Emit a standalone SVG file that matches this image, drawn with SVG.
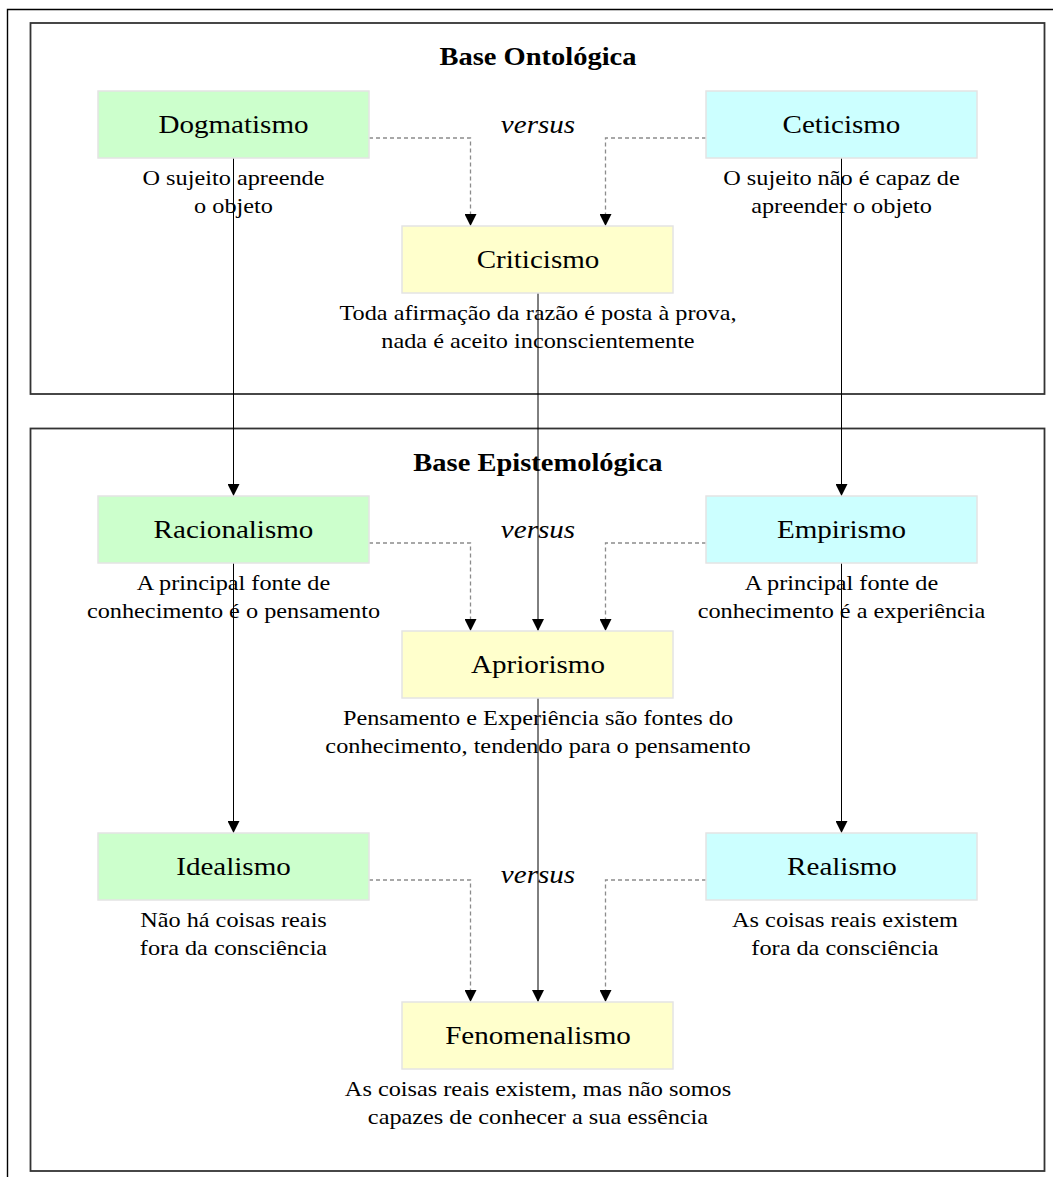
<svg xmlns="http://www.w3.org/2000/svg" width="1053" height="1177" viewBox="0 0 1053 1177">
  <defs>
    <marker id="arrow" viewBox="0 0 12 12" refX="12" refY="6" markerWidth="12" markerHeight="12" markerUnits="userSpaceOnUse" orient="auto">
      <path d="M0,0 L12,6 L0,12 Z" fill="#000"/>
    </marker>
    <style>
      text { font-family: "Liberation Serif", "Times New Roman", serif; fill: #000; text-anchor: middle;
             transform-box: fill-box; transform-origin: center; transform: scaleX(1.14); }
      .title { font-size: 25px; font-weight: bold; }
      .label { font-size: 25.5px; }
      .caption { font-size: 21.3px; }
      .versus { font-size: 25.5px; font-style: italic; }
      .section { fill: none; stroke: #333; stroke-width: 1.8; }
      .green { fill: #ccffcc; stroke: #e4e4e4; stroke-width: 1.5; }
      .cyan { fill: #ccffff; stroke: #e4e4e4; stroke-width: 1.5; }
      .yellow { fill: #ffffcc; stroke: #e4e4e4; stroke-width: 1.5; }
      .solid { fill: none; stroke: #000; stroke-width: 1; }
      .dashed { fill: none; stroke: #8c8c8c; stroke-width: 1.3; stroke-dasharray: 4 3; }
    </style>
  </defs>

  <rect width="1053" height="1177" fill="#fff"/>

  <!-- page frame -->
  <path d="M7.5,1177 V9.5 H1053" fill="none" stroke="#000" stroke-width="1.4"/>

  <!-- sections -->
  <g id="section-ontologica">
    <rect class="section" x="30.5" y="23" width="1014" height="371"/>
    <text class="title" x="538" y="65">Base Ontológica</text>
  </g>
  <g id="section-epistemologica">
    <rect class="section" x="30.5" y="428.5" width="1014" height="742.5"/>
    <text class="title" x="538" y="471">Base Epistemológica</text>
  </g>

  <!-- connectors -->
  <g id="connectors">
    <!-- solid vertical links -->
    <path class="solid" d="M233.5,158 V496" marker-end="url(#arrow)"/>
    <path class="solid" d="M841.5,158 V496" marker-end="url(#arrow)"/>
    <path class="solid" d="M538,293 V631" marker-end="url(#arrow)"/>
    <path class="solid" d="M233.5,563 V833" marker-end="url(#arrow)"/>
    <path class="solid" d="M841.5,563 V833" marker-end="url(#arrow)"/>
    <path class="solid" d="M538,698 V1002" marker-end="url(#arrow)"/>
    <!-- dashed side links -->
    <path class="dashed" d="M369,138 H470.5 V226" marker-end="url(#arrow)"/>
    <path class="dashed" d="M706,138 H605.5 V226" marker-end="url(#arrow)"/>
    <path class="dashed" d="M369,543 H470.5 V631" marker-end="url(#arrow)"/>
    <path class="dashed" d="M706,543 H605.5 V631" marker-end="url(#arrow)"/>
    <path class="dashed" d="M369,880 H470.5 V1002" marker-end="url(#arrow)"/>
    <path class="dashed" d="M706,880 H605.5 V1002" marker-end="url(#arrow)"/>
  </g>

  <!-- "versus" labels -->
  <g id="versus-labels">
    <text class="versus" x="538" y="133">versus</text>
    <text class="versus" x="538" y="538">versus</text>
    <text class="versus" x="538" y="883">versus</text>
  </g>

  <!-- ontological base -->
  <g id="dogmatismo">
    <rect class="green" x="98" y="91" width="271" height="67"/>
    <text class="label" x="233.5" y="133">Dogmatismo</text>
    <text class="caption" x="233.5" y="185">O sujeito apreende</text>
    <text class="caption" x="233.5" y="213">o objeto</text>
  </g>
  <g id="ceticismo">
    <rect class="cyan" x="706" y="91" width="271" height="67"/>
    <text class="label" x="841.5" y="133">Ceticismo</text>
    <text class="caption" x="841.5" y="185">O sujeito não é capaz de</text>
    <text class="caption" x="841.5" y="213">apreender o objeto</text>
  </g>
  <g id="criticismo">
    <rect class="yellow" x="402" y="226" width="271" height="67"/>
    <text class="label" x="538" y="268">Criticismo</text>
    <text class="caption" x="538" y="320">Toda afirmação da razão é posta à prova,</text>
    <text class="caption" x="538" y="348">nada é aceito inconscientemente</text>
  </g>

  <!-- epistemological base -->
  <g id="racionalismo">
    <rect class="green" x="98" y="496" width="271" height="67"/>
    <text class="label" x="233.5" y="538">Racionalismo</text>
    <text class="caption" x="233.5" y="590">A principal fonte de</text>
    <text class="caption" x="233.5" y="618">conhecimento é o pensamento</text>
  </g>
  <g id="empirismo">
    <rect class="cyan" x="706" y="496" width="271" height="67"/>
    <text class="label" x="841.5" y="538">Empirismo</text>
    <text class="caption" x="841.5" y="590">A principal fonte de</text>
    <text class="caption" x="841.5" y="618">conhecimento é a experiência</text>
  </g>
  <g id="apriorismo">
    <rect class="yellow" x="402" y="631" width="271" height="67"/>
    <text class="label" x="538" y="673">Apriorismo</text>
    <text class="caption" x="538" y="725">Pensamento e Experiência são fontes do</text>
    <text class="caption" x="538" y="753">conhecimento, tendendo para o pensamento</text>
  </g>
  <g id="idealismo">
    <rect class="green" x="98" y="833" width="271" height="67"/>
    <text class="label" x="233.5" y="875">Idealismo</text>
    <text class="caption" x="233.5" y="927">Não há coisas reais</text>
    <text class="caption" x="233.5" y="955">fora da consciência</text>
  </g>
  <g id="realismo">
    <rect class="cyan" x="706" y="833" width="271" height="67"/>
    <text class="label" x="842" y="875">Realismo</text>
    <text class="caption" x="845" y="927">As coisas reais existem</text>
    <text class="caption" x="845" y="955">fora da consciência</text>
  </g>
  <g id="fenomenalismo">
    <rect class="yellow" x="402" y="1002" width="271" height="67"/>
    <text class="label" x="538" y="1044">Fenomenalismo</text>
    <text class="caption" x="538" y="1096">As coisas reais existem, mas não somos</text>
    <text class="caption" x="538" y="1124">capazes de conhecer a sua essência</text>
  </g>
</svg>
